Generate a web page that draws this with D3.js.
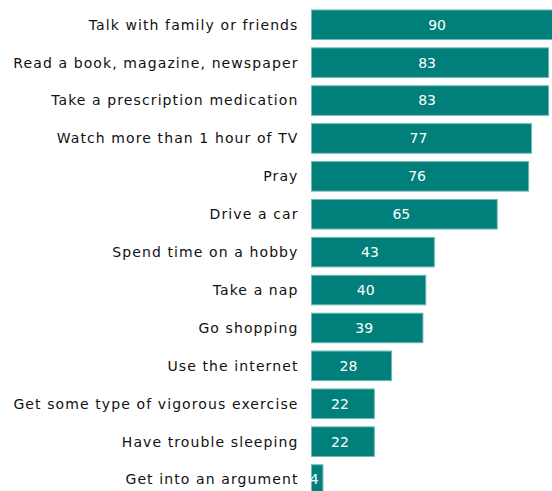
<!DOCTYPE html>
<html>
<head>
<meta charset="utf-8">
<script src="https://cdn.jsdelivr.net/npm/d3@7"></script>
<style>
  body { margin: 0; background: #fff; }
  svg { display: block; }
  .label { font-family: "DejaVu Sans", Verdana, sans-serif; font-size: 14px; letter-spacing: 1.1px; fill: #111; }
  .value { font-family: "DejaVu Sans", Verdana, sans-serif; font-size: 14px; fill: #fff; }
</style>
</head>
<body>
<div id="chart"></div>
<script>
const activities = [
  "Talk with family or friends",
  "Read a book, magazine, newspaper",
  "Take a prescription medication",
  "Watch more than 1 hour of TV",
  "Pray",
  "Drive a car",
  "Spend time on a hobby",
  "Take a nap",
  "Go shopping",
  "Use the internet",
  "Get some type of vigorous exercise",
  "Have trouble sleeping",
  "Get into an argument"
];
const percents = [90, 83, 83, 77, 76, 65, 43, 40, 39, 28, 22, 22, 4];

const width = 552;
const height = 491;

const data = activities.map((a, i) => ({name: a, value: percents[i]}));

const svg = d3.select("#chart")
  .append("svg")
    .attr("width", width)
    .attr("height", height);

const x = d3.scaleLinear()
  .domain([0, 100])
  .range([311.5, 597.2]);

const y = d3.scaleBand()
  .domain(activities)
  .range([5.8, 498.5])
  .paddingInner(0.22)
  .paddingOuter(0.11);

// bars
svg.selectAll("rect.bar")
  .data(data)
  .enter()
  .append("rect")
    .attr("class", "bar")
    .attr("x", x(0))
    .attr("y", d => y(d.name))
    .attr("width", d => x(d.value) - x(0))
    .attr("height", y.bandwidth())
    .attr("fill", "#007f7b")
    .attr("stroke", "#6fb9b5")
    .attr("stroke-width", 1);

// category labels
svg.selectAll("text.label")
  .data(data)
  .enter()
  .append("text")
    .attr("class", "label")
    .attr("text-anchor", "end")
    .attr("x", x(0) - 13)
    .attr("y", d => y(d.name) + y.bandwidth() / 2)
    .attr("dy", "0.35em")
    .text(d => d.name);

// values inside bars
svg.selectAll("text.value")
  .data(data)
  .enter()
  .append("text")
    .attr("class", "value")
    .attr("text-anchor", "middle")
    .attr("x", d => (x(0) + x(d.value)) / 2 - 3)
    .attr("y", d => y(d.name) + y.bandwidth() / 2)
    .attr("dy", "0.35em")
    .text(d => d.value);
</script>
</body>
</html>
